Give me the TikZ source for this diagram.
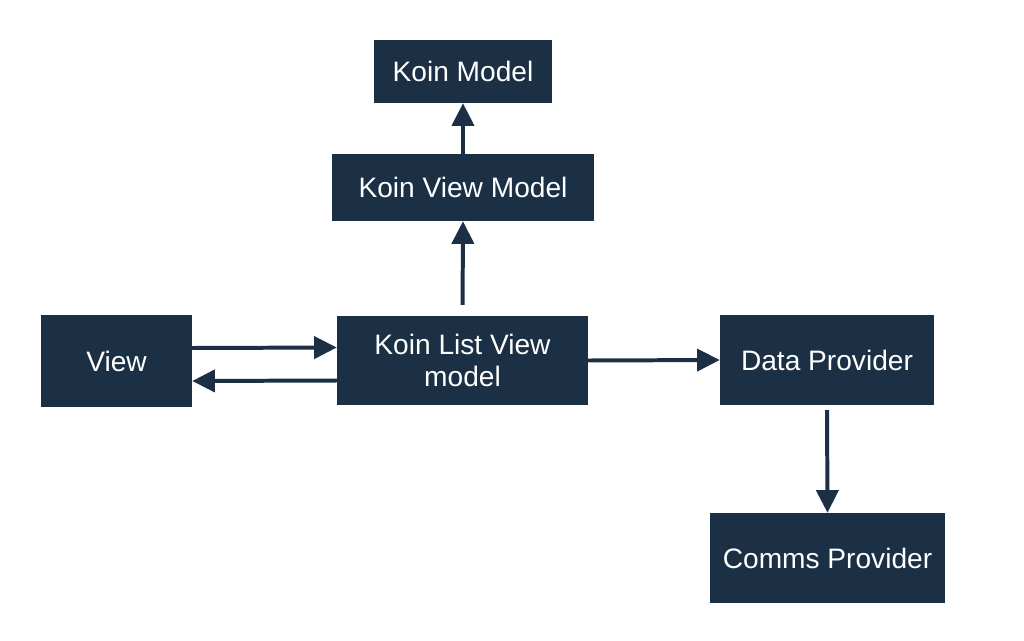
\documentclass[tikz,border=0pt]{standalone}
\usepackage{fontspec}
\setmainfont{Liberation Sans}
\usetikzlibrary{arrows.meta}
\definecolor{navy}{HTML}{1B3045}

\begin{document}
\begin{tikzpicture}[x=0.03cm,y=-0.03cm,
  box/.style={fill=navy,text=white,align=center,inner sep=0pt,
    font=\fontsize{24}{28}\selectfont},
  link/.style={draw=navy,line width=3.4pt,-{Triangle[length=0.68cm,width=0.66cm]}}]
\useasboundingbox (0,0) rectangle (1024,641);
\node[box,minimum width=5.34cm,minimum height=1.89cm] (model) at (463,71.5) {Koin Model};
\node[box,minimum width=7.86cm,minimum height=2.01cm] (vmodel) at (463,187.5) {Koin View Model};
\node[box,minimum width=4.53cm,minimum height=2.76cm] (view) at (116.5,361) {View};
\node[box,minimum width=7.53cm,minimum height=2.67cm] (lvmodel) at (462.5,360.5) {Koin List View\\model};
\node[box,minimum width=6.42cm,minimum height=2.7cm] (data) at (827,360) {Data Provider};
\node[box,minimum width=7.05cm,minimum height=2.7cm] (comms) at (827.5,558) {Comms Provider};
\draw[link] (vmodel.north) -- (model.south);
\draw[link,shorten <=0.33cm] (lvmodel.north) -- (vmodel.south);
\draw[link] ([yshift=0.39cm]view.east) -- ([yshift=0.39cm]lvmodel.west);
\draw[link] ([yshift=-0.6cm]lvmodel.west) -- ([yshift=-0.6cm]view.east);
\draw[link] (lvmodel.east) -- (data.west);
\draw[link,shorten <=0.15cm] (data.south) -- (comms.north);
\end{tikzpicture}
\end{document}
